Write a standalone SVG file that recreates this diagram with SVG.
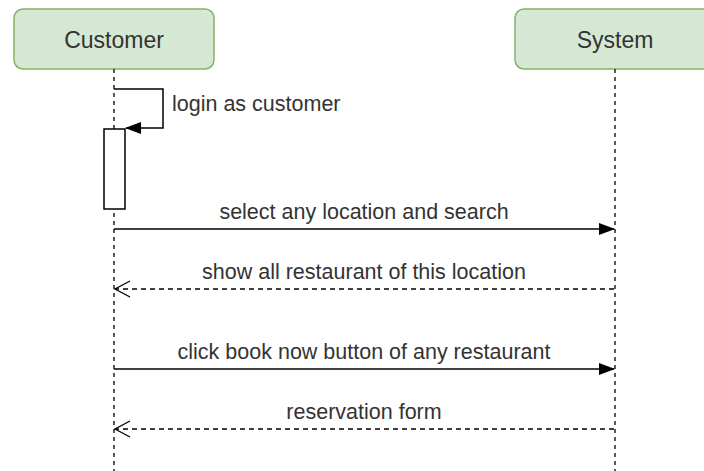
<svg xmlns="http://www.w3.org/2000/svg" width="704" height="471" viewBox="0 0 704 471">
<style>
.actor{fill:#d5e8d4;stroke:#82b366;stroke-width:1.5}
.t{font-family:"Liberation Sans",Arial,sans-serif;fill:#333;}
.title{font-size:23px;text-anchor:middle}
.msg{font-size:21.5px;text-anchor:middle}
.life{stroke:#000;stroke-width:1.3;stroke-dasharray:4 4;fill:none}
.sync{stroke:#000;stroke-width:1.5;fill:none}
.ret{stroke:#000;stroke-width:1.3;stroke-dasharray:5 4;fill:none}
</style>
<defs>
<marker id="filled" markerWidth="16" markerHeight="12" refX="15" refY="6" orient="auto" markerUnits="userSpaceOnUse">
<path d="M0,0 L16,6 L0,12 Z" fill="#000"/>
</marker>
<marker id="open" markerWidth="18" markerHeight="18" refX="16" refY="9" orient="auto" markerUnits="userSpaceOnUse">
<path d="M1,1 L16,9 L1,17" fill="none" stroke="#000" stroke-width="1.3"/>
</marker>
</defs>
<rect width="704" height="471" fill="#fff"/>
<g id="customer">
<rect class="actor" x="14" y="9" width="200" height="60" rx="9"/>
<text class="t title" x="114" y="48">Customer</text>
</g>
<g id="system">
<rect class="actor" x="515" y="9" width="200" height="60" rx="9"/>
<text class="t title" x="615" y="48">System</text>
</g>
<g id="lifelines">
<line class="life" x1="114" y1="69" x2="114" y2="471"/>
<line class="life" x1="615" y1="69" x2="615" y2="471"/>
</g>
<g id="activation">
<rect x="104" y="129" width="21" height="80" fill="#fff" stroke="#000" stroke-width="1.5"/>
</g>
<g id="connectors">
<path class="sync" d="M114,89 H163 V128 H126" marker-end="url(#filled)"/>
<text class="t msg" x="172" y="111" style="text-anchor:start">login as customer</text>
<line class="sync" x1="114" y1="229" x2="614" y2="229" marker-end="url(#filled)"/>
<text class="t msg" x="364" y="219">select any location and search</text>
<line class="ret" x1="614" y1="289" x2="115" y2="289" marker-end="url(#open)"/>
<text class="t msg" x="364" y="279">show all restaurant of this location</text>
<line class="sync" x1="114" y1="369" x2="614" y2="369" marker-end="url(#filled)"/>
<text class="t msg" x="364" y="359">click book now button of any restaurant</text>
<line class="ret" x1="614" y1="429" x2="115" y2="429" marker-end="url(#open)"/>
<text class="t msg" x="364" y="419">reservation form</text>
</g>
</svg>
